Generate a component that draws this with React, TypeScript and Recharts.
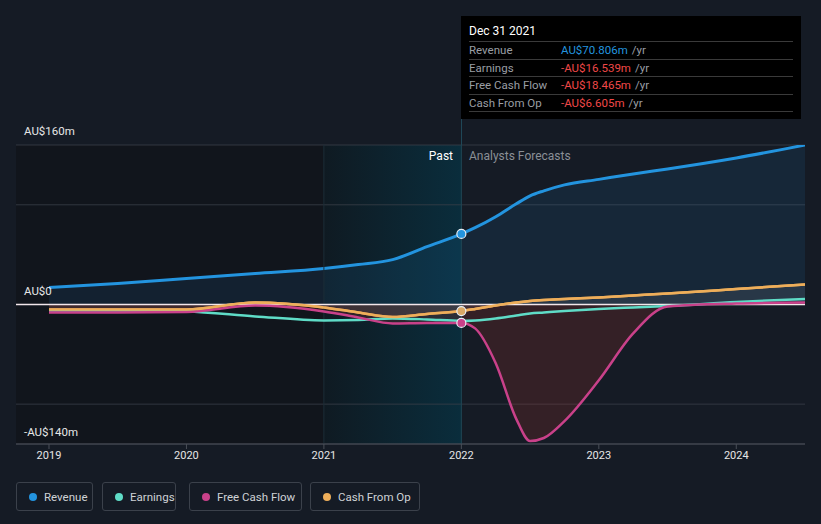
import React from 'react';
import { ComposedChart, Area, Line, XAxis, YAxis, CartesianGrid, ReferenceLine } from 'recharts';

// sample points (years) shared by all series
const years = [2019, 2019.5, 2020, 2020.5, 2021, 2021.25, 2021.5, 2021.75, 2022, 2022.1, 2022.25, 2022.4, 2022.5, 2022.6, 2022.75, 2023, 2023.25, 2023.5, 2024, 2024.5];
const revenue = [17, 21, 26, 31, 36, 40, 45, 58, 70.8, 77, 88, 101, 109, 114, 120, 125.5, 131, 136, 147, 160];
const earnings = [-6, -6, -7, -12, -16, -15.5, -14, -15, -16.5, -16, -14, -11, -9, -8, -6.5, -4.5, -3, -1.5, 2.5, 5.5];
const freeCashFlow = [-8, -8, -7.5, -1, -7, -13, -19, -18.5, -18.5, -24, -59, -115, -137, -134, -117, -76, -29, -2, 1, 2];
const cashFromOp = [-5, -5, -5, 2, -3, -8, -12.5, -9.5, -6.6, -4.5, -1, 2, 3.5, 4.5, 5.5, 7, 9, 11, 15.5, 20];

const xTicks = [2019, 2020, 2021, 2022, 2023, 2024];
const yTicks = [-140, -100, 0, 100, 160];
const yLabels = [
  { text: 'AU$160m', top: 124 },
  { text: 'AU$0', top: 284 },
  { text: '-AU$140m', top: 425 },
];

const legendItems = [
  { name: 'Revenue', color: '#2394df', left: 16, width: 77 },
  { name: 'Earnings', color: '#5fdcc7', left: 102, width: 74 },
  { name: 'Free Cash Flow', color: '#c9418a', left: 189, width: 113 },
  { name: 'Cash From Op', color: '#eeae5a', left: 310, width: 110 },
];

const tooltipRows = [
  { label: 'Revenue', value: 'AU$70.806m', color: '#2394df' },
  { label: 'Earnings', value: '-AU$16.539m', color: '#f04848' },
  { label: 'Free Cash Flow', value: '-AU$18.465m', color: '#f04848' },
  { label: 'Cash From Op', value: '-AU$6.605m', color: '#f04848' },
];

const data = years.map((x, i) => ({
  x,
  revenue: revenue[i],
  earnings: earnings[i],
  fcf: freeCashFlow[i],
  cfo: cashFromOp[i],
}));

const font = 'Roboto, "Noto Sans", sans-serif';

const markDot = (color: string) => (props: any) => {
  const { cx, cy, payload, index } = props;
  if (payload.x !== 2022) return <g key={index} />;
  return <circle key={index} cx={cx} cy={cy} r={4.5} fill={color} stroke="#e8eef5" strokeWidth={1.2} />;
};

const NoTick = () => <g />;

export default function App() {
  return (
    <div style={{ position: 'relative', width: 821, height: 524, background: '#151b25', fontFamily: font, overflow: 'hidden' }}>
      <style>{'body{margin:0;background:#151b25}'}</style>

      {/* background bands behind the svg */}
      <div style={{ position: 'absolute', left: 16, top: 145, width: 307, height: 299, background: '#11151c' }} />
      <div
        style={{
          position: 'absolute',
          left: 323,
          top: 145,
          width: 138,
          height: 299,
          background: 'linear-gradient(to right, #0f1a22, #0a2d3c)',
        }}
      />

      <div style={{ position: 'absolute', left: 0, top: 0 }}>
        <ComposedChart width={821} height={524} data={data} margin={{ top: 145, right: 16, bottom: 50, left: 16 }}>
          <CartesianGrid vertical={false} horizontalValues={yTicks} stroke="#3a3f48" strokeOpacity={0.8} />
          <ReferenceLine x={2021} stroke="#1d2c36" />
          <ReferenceLine x={2022} stroke="#1f4757" />
          <XAxis
            dataKey="x"
            type="number"
            domain={[2018.76, 2024.5]}
            ticks={xTicks}
            height={30}
            axisLine={{ stroke: '#4a4f58' }}
            tickLine={{ stroke: '#4a4f58' }}
            tickSize={5}
            tick={{ fill: '#e6e6e6', fontSize: 11, fontFamily: font }}
            allowDataOverflow
          />
          <YAxis type="number" domain={[-140, 160]} ticks={yTicks} width={0} axisLine={false} tickLine={false} tick={<NoTick />} allowDataOverflow />
          <Area
            type="monotone"
            dataKey="revenue"
            stroke="#2394df"
            strokeWidth={3}
            fill="#2394df"
            fillOpacity={0.1}
            dot={markDot('#2394df')}
            activeDot={false}
            isAnimationActive={false}
          />
          <Area
            type="monotone"
            dataKey="cfo"
            stroke="#eeae5a"
            strokeWidth={2.5}
            fill="#ffffff"
            fillOpacity={0.08}
            dot={false}
            activeDot={false}
            isAnimationActive={false}
          />
          <Area
            type="monotone"
            dataKey="fcf"
            stroke="none"
            fill="#c0392b"
            fillOpacity={0.18}
            dot={false}
            activeDot={false}
            isAnimationActive={false}
          />
          <ReferenceLine y={0} stroke="#f2e6ea" strokeWidth={1.5} />
          <Line type="monotone" dataKey="earnings" stroke="#5fdcc7" strokeWidth={2.5} dot={false} activeDot={false} isAnimationActive={false} />
          <Line type="monotone" dataKey="fcf" stroke="#c9418a" strokeWidth={2.5} dot={markDot('#c9418a')} activeDot={false} isAnimationActive={false} />
          <Line type="monotone" dataKey="cfo" stroke="#eeae5a" strokeWidth={2.5} dot={markDot('#d9a866')} activeDot={false} isAnimationActive={false} />
        </ComposedChart>
      </div>

      {yLabels.map((l) => (
        <div key={l.text} style={{ position: 'absolute', left: 24, top: l.top, color: '#e6e6e6', fontSize: 11.5, lineHeight: '14px' }}>
          {l.text}
        </div>
      ))}

      <div style={{ position: 'absolute', left: 461, top: 119, width: 1, height: 26, background: '#1f4757' }} />

      <div style={{ position: 'absolute', left: 300, width: 153, top: 149, textAlign: 'right', color: '#ffffff', fontSize: 12 }}>Past</div>
      <div style={{ position: 'absolute', left: 469, top: 149, color: '#8a8f96', fontSize: 12 }}>Analysts Forecasts</div>

      <div style={{ position: 'absolute', left: 461, top: 16, width: 340, height: 103, background: '#000000', boxSizing: 'border-box', padding: '0 8px' }}>
        <div style={{ color: '#ffffff', fontSize: 12, height: 25, lineHeight: '30px' }}>Dec 31 2021</div>
        {tooltipRows.map((r) => (
          <div key={r.label} style={{ borderTop: '1px solid #3a3a3a', height: 16.5, lineHeight: '16px', fontSize: 11.5, display: 'flex' }}>
            <span style={{ color: '#9a9ea4', width: 92 }}>{r.label}</span>
            <span style={{ color: r.color }}>{r.value}</span>
            <span style={{ color: '#9a9ea4', marginLeft: 4 }}>/yr</span>
          </div>
        ))}
        <div style={{ borderTop: '1px solid #3a3a3a' }} />
      </div>

      {legendItems.map((it) => (
        <div
          key={it.name}
          style={{
            position: 'absolute',
            left: it.left,
            top: 482,
            width: it.width,
            height: 29,
            boxSizing: 'border-box',
            border: '1px solid #3b414b',
            borderRadius: 3,
            display: 'flex',
            alignItems: 'center',
            paddingLeft: 12,
            color: '#cfd2d6',
            fontSize: 11.5,
            whiteSpace: 'nowrap',
          }}
        >
          <span style={{ width: 8, height: 8, borderRadius: 4, background: it.color, marginRight: 7, flexShrink: 0 }} />
          {it.name}
        </div>
      ))}
    </div>
  );
}
